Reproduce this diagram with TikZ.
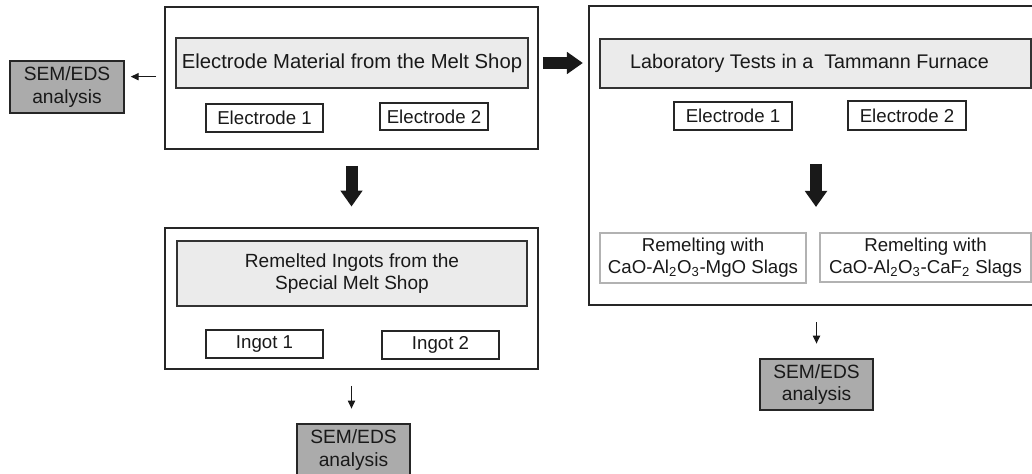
\documentclass[tikz,border=0pt]{standalone}
\usepackage{fontspec}
\setmainfont{Liberation Sans}
\usetikzlibrary{arrows.meta}

% box sizes are given in pixels of the drawing grid
\tikzset{
  wh/.style 2 args={minimum width=#1*0.75pt, minimum height=#2*0.75pt},
  stage/.style={draw=black!85, line width=1.2pt, inner sep=0pt},
  head/.style={draw=black!80, line width=1pt, fill=black!8, inner sep=0pt, align=center},
  item/.style={draw=black!85, line width=1pt, inner sep=0pt},
  slag/.style={draw=black!30, line width=1pt, inner sep=0pt, align=center},
  sem/.style={draw=black!85, line width=1.1pt, fill=black!33, inner sep=0pt, align=center},
  bigarrow/.style={line width=9pt, black!90, -{Triangle[length=12pt,width=16pt]}},
  thinarrow/.style={line width=0.8pt, black!90, -{Triangle[length=6pt,width=5.5pt]}}
}

\begin{document}
\begin{tikzpicture}[x=0.75pt, y=-0.75pt, font=\fontsize{14}{16.5}\selectfont, text=black!90]
  \useasboundingbox (0,0) rectangle (1032,474);

  % melt shop electrodes
  \node[stage, wh={373}{142}] (meltshop) at (351.5,78) {};
  \node[head, wh={352}{50}, font=\fontsize{15.2}{17}\selectfont] (meltshopHd) at (352,63) {Electrode Material from the Melt Shop};
  \node[item, wh={117}{28}] (elecA1) at (264.5,118) {Electrode 1};
  \node[item, wh={108}{27}] (elecA2) at (434,116.5) {Electrode 2};
  \node[sem, wh={114}{52}, font=\fontsize{14.4}{17}\selectfont] (semA) at (67,87) {SEM/EDS\\analysis};

  % remelted ingots
  \node[stage, wh={373}{141}] (ingots) at (351.5,298.5) {};
  \node[head, wh={350}{65}, font=\fontsize{14.3}{16.5}\selectfont] (ingotsHd) at (352,273.5) {Remelted Ingots from the\\Special Melt Shop};
  \node[item, wh={117}{28}] (ingot1) at (264.5,344) {Ingot 1};
  \node[item, wh={117}{28}] (ingot2) at (440.5,345) {Ingot 2};
  \node[sem, wh={113}{52}, font=\fontsize{14.4}{17}\selectfont] (semB) at (353.5,450) {SEM/EDS\\analysis};

  % laboratory tests
  \node[stage, wh={456}{299}] (lab) at (817,155.5) {};
  \node[head, wh={431}{49}, font=\fontsize{14.8}{17}\selectfont] (labHd) at (815.5,63.5) {Laboratory Tests in a~ Tammann Furnace\hspace*{9pt}};
  \node[item, wh={118}{28}] (elecC1) at (733,116) {Electrode 1};
  \node[item, wh={118}{29}] (elecC2) at (907,115.5) {Electrode 2};
  \node[slag, wh={206}{50}] (slagMg) at (703,258) {Remelting with\\CaO-Al\textsubscript{2}O\textsubscript{3}-MgO Slags};
  \node[slag, wh={211}{49}] (slagCa) at (925.5,257.5) {Remelting with\\CaO-Al\textsubscript{2}O\textsubscript{3}-CaF\textsubscript{2} Slags};
  \node[sem, wh={113}{51}, font=\fontsize{14.4}{17}\selectfont] (semC) at (816.5,384.5) {SEM/EDS\\analysis};
  \coordinate (remeltTop) at (816,164);
  \coordinate (remeltBot) at (816,207);

  % flow
  \draw[bigarrow, shorten <=3pt, shorten >=4pt] (meltshop.east |- meltshopHd) -- (lab.west |- meltshopHd);
  \draw[bigarrow, shorten <=12pt, shorten >=15.5pt] (meltshop.south) -- (ingots.north);
  \draw[bigarrow] (remeltTop) -- (remeltBot);
  \draw[thinarrow, shorten <=6pt, shorten >=4.5pt] ([yshift=1pt]meltshop.west) -- ([yshift=1pt]meltshop.west -| semA.east);
  \draw[thinarrow, shorten <=12pt, shorten >=11pt] (ingots.south) -- (ingots.south |- semB.north);
  \draw[thinarrow, shorten <=12.5pt, shorten >=11pt] (semC.north |- lab.south) -- (semC.north);
\end{tikzpicture}
\end{document}
